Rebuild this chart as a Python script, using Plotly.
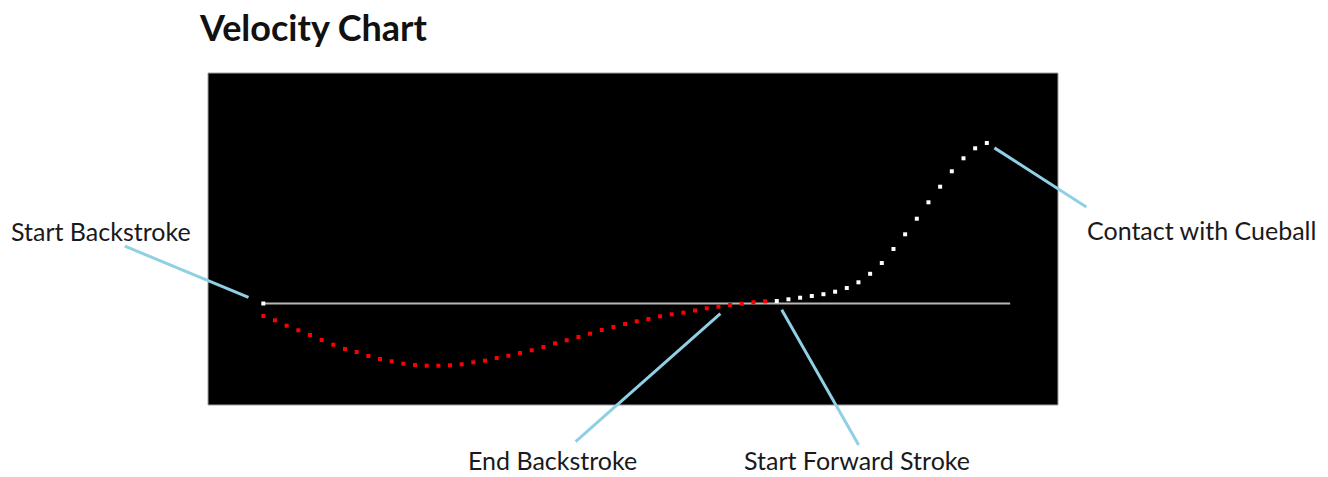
import plotly.graph_objects as go

# Velocity samples (arbitrary units, 0 = baseline)
backstroke_idx = list(range(0, 44))
backstroke_vel = [-12.5, -16.8, -22.2, -26.8, -31.5, -36.5, -41.2, -45.5, -48.5, -52.5,
                  -55.5, -57.8, -60.2, -61.5, -62.2, -62.2, -61.8, -60.8, -58.8, -57.2,
                  -54.5, -52.2, -49.5, -46.8, -43.5, -39.8, -36.8, -33.5, -30.2, -26.5,
                  -23.5, -20.5, -17.8, -15.5, -12.8, -10.8, -9.2, -7.0, -4.8, -3.2,
                  -1.5, -0.2, 1.2, 2.2]
forward_idx = list(range(44, 63))
forward_vel = [2.5, 4.2, 5.8, 7.5, 9.3, 11.8, 15.5, 21.2, 29.7, 40.5,
               54.5, 69.2, 84.8, 101.2, 116.8, 132.2, 145.2, 155.2, 160.5]
baseline_idx = [0, 64]
baseline_vel = [0, 0]

labels = ["Start Backstroke", "End Backstroke", "Start Forward Stroke", "Contact with Cueball"]

LABEL_FONT = dict(family="Lato, Carlito, 'Open Sans', sans-serif", size=25, color="#1a1a1a")
ARROW_COLOR = "#8fd0e4"

fig = go.Figure()
fig.add_trace(go.Scatter(x=baseline_idx, y=baseline_vel, mode="lines",
                         line=dict(color="#b8b8b8", width=2), hoverinfo="skip", showlegend=False))
fig.add_trace(go.Scatter(x=baseline_idx[:1], y=baseline_vel[:1], mode="markers",
                         marker=dict(symbol="square", size=4, color="white"), showlegend=False))
fig.add_trace(go.Scatter(x=backstroke_idx, y=backstroke_vel, mode="markers",
                         marker=dict(symbol="square", size=4, color="#ff0000"), showlegend=False))
fig.add_trace(go.Scatter(x=forward_idx, y=forward_vel, mode="markers",
                         marker=dict(symbol="square", size=4, color="#ffffff"), showlegend=False))

# arrows (point at data samples)
arrow_specs = [
    (backstroke_idx[0], backstroke_vel[0] + 12.5, -140, -58, 16),
    (backstroke_idx[40], backstroke_vel[40], -156, 138, 13),
    (forward_idx[0], forward_vel[0], 83, 146, 10),
    (forward_idx[-1], forward_vel[-1], 101, 65, 9),
]
for x, y, ax, ay, so in arrow_specs:
    fig.add_annotation(x=x, y=y, xref="x", yref="y", ax=ax, ay=ay, axref="pixel", ayref="pixel",
                       text=" ", font=dict(size=1), showarrow=True, arrowhead=0,
                       arrowwidth=3, arrowcolor=ARROW_COLOR, standoff=so)

# label text (paper coords relative to plot area 208..1058 x 73..405)
W, H, L, T = 850.0, 332.0, 208.0, 73.0
def px(xp):
    return (xp - L) / W
def py(yp):
    return 1 - (yp - T) / H
label_pos = [(101, 231, "middle"), (552, 477, "bottom"), (857, 477, "bottom"), (1201, 230, "middle")]
for text, (xp, yp, ya) in zip(labels, label_pos):
    fig.add_annotation(x=px(xp), y=py(yp), xref="paper", yref="paper", text=text,
                       showarrow=False, font=LABEL_FONT, xanchor="center", yanchor=ya)

fig.add_shape(type="rect", xref="paper", yref="paper", x0=0, y0=0, x1=1, y1=1,
              line=dict(color="#a0a0a0", width=1), layer="above")

fig.update_layout(
    width=1328, height=477,
    margin=dict(l=208, r=270, t=73, b=72, autoexpand=False),
    paper_bgcolor="white", plot_bgcolor="black",
    title=dict(text="<b>Velocity Chart</b>", x=200 / 1328, xanchor="left",
               y=1 - 28 / 477, yanchor="middle",
               font=dict(family="Lato, Carlito, 'Open Sans', sans-serif", size=36, color="#111111")),
    xaxis=dict(range=[-4.74, 68.1], visible=False, showgrid=False, zeroline=False, fixedrange=True),
    yaxis=dict(range=[-101.5, 230.5], visible=False, showgrid=False, zeroline=False, fixedrange=True),
    showlegend=False,
)

fig.write_html("out.html", config={"displayModeBar": False},
               post_script="document.body.style.margin='0px';document.body.style.overflow='hidden';")
